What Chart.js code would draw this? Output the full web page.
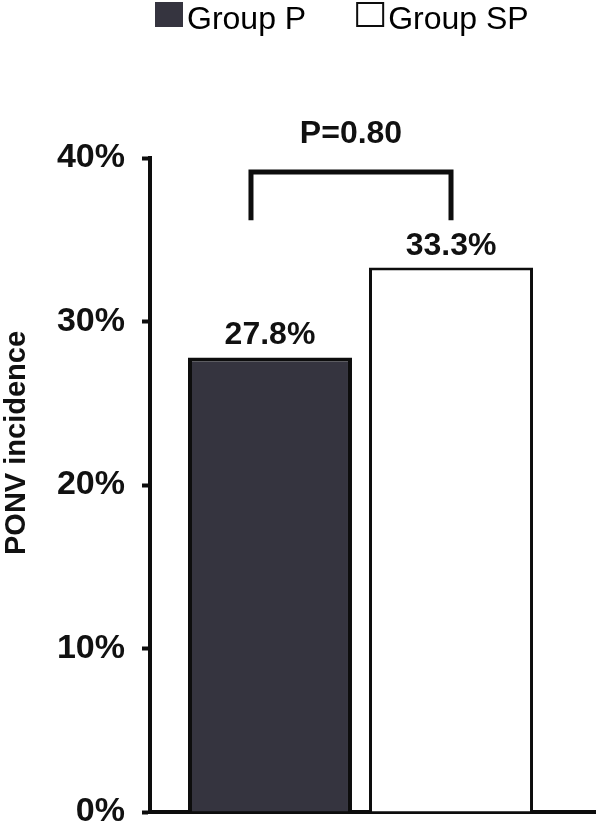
<!DOCTYPE html>
<html>
<head>
<meta charset="utf-8">
<script src="https://cdn.jsdelivr.net/npm/chart.js@4"></script>
<style>
    html, body { margin: 0; padding: 0; background: #fff; }
    #chart-container { width: 596px; height: 824px; }
</style>
</head>
<body>
<div id="chart-container"><canvas id="myChart" width="596" height="824"></canvas></div>
<script>
const categories = ['PONV'];
const groups = ['Group P', 'Group SP'];
const incidence = [27.8, 33.3];
const yTicks = [0, 10, 20, 30, 40];
const yTitle = 'PONV incidence';
const pValueText = 'P=0.80';
// bracket levels, in axis units (%)
const bracketTop = 39.15;
const bracketLegs = 36.2;

const ink = '#0d0d0d';
const fontFamily = '"Liberation Sans", Arial, sans-serif';

const extras = {
    id: 'extras',
    afterDraw(chart) {
        const ctx = chart.ctx;
        const area = chart.chartArea;
        const yScale = chart.scales.y;
        const bar1 = chart.getDatasetMeta(0).data[0];
        const bar2 = chart.getDatasetMeta(1).data[0];

        ctx.save();

        // x axis runs on past the last bar to the edge
        ctx.strokeStyle = ink;
        ctx.lineWidth = 4;
        ctx.beginPath();
        ctx.moveTo(area.right - 2, area.bottom);
        ctx.lineTo(chart.width, area.bottom);
        ctx.stroke();

        // value labels
        ctx.fillStyle = '#111';
        ctx.font = 'bold 32px ' + fontFamily;
        ctx.textAlign = 'center';
        ctx.textBaseline = 'alphabetic';
        [bar1, bar2].forEach((bar, i) => {
            ctx.fillText(incidence[i].toFixed(1) + '%', bar.x, bar.y - 13);
        });

        // significance bracket
        const left = bar1.x - 19;
        const right = bar2.x;
        const yTop = yScale.getPixelForValue(bracketTop);
        const yLeg = yScale.getPixelForValue(bracketLegs);
        ctx.lineWidth = 5;
        ctx.beginPath();
        ctx.moveTo(left, yLeg);
        ctx.lineTo(left, yTop);
        ctx.lineTo(right, yTop);
        ctx.lineTo(right, yLeg);
        ctx.stroke();
        ctx.fillText(pValueText, (left + right) / 2, yTop - 29);

        // y axis title
        ctx.save();
        ctx.translate(17, (area.top + area.bottom) / 2 - 42);
        ctx.rotate(-Math.PI / 2);
        ctx.font = 'bold 29px ' + fontFamily;
        ctx.textBaseline = 'middle';
        ctx.fillText(yTitle, 0, 0);
        ctx.restore();

        // legend
        ctx.font = '32px ' + fontFamily;
        ctx.textAlign = 'left';
        let x = 155;
        chart.data.datasets.forEach((ds, i) => {
            const boxW = 28, boxH = 25;
            ctx.fillStyle = ds.backgroundColor;
            ctx.fillRect(x, 2, boxW, boxH);
            if (i > 0) {
                ctx.lineWidth = 2;
                ctx.strokeStyle = ink;
                ctx.strokeRect(x + 1, 3, boxW - 2, boxH - 2);
            }
            x += boxW + 4;
            ctx.fillStyle = '#000';
            ctx.fillText(ds.label, x, 29);
            x += ctx.measureText(ds.label).width + 50;
        });

        ctx.restore();
    }
};

const ctx = document.getElementById('myChart').getContext('2d');
const myChart = new Chart(ctx, {
    type: 'bar',
    data: {
        labels: categories,
        datasets: [{
            label: groups[0],
            data: [incidence[0]],
            backgroundColor: '#35343f',
            borderColor: ink,
            borderWidth: 4,
            barPercentage: 0.906,
            categoryPercentage: 0.86
        }, {
            label: groups[1],
            data: [incidence[1]],
            backgroundColor: '#ffffff',
            borderColor: ink,
            borderWidth: 3,
            barPercentage: 0.906,
            categoryPercentage: 0.86
        }]
    },
    options: {
        responsive: false,
        animation: false,
        layout: {
            padding: { top: 158, left: 4, right: 25, bottom: 12 }
        },
        plugins: {
            legend: { display: false },
            tooltip: { enabled: false }
        },
        scales: {
            x: {
                afterFit: (scale) => { scale.height = 0; },
                ticks: { display: false },
                grid: { display: false },
                border: { display: true, width: 4, color: ink }
            },
            y: {
                min: 0,
                max: 40,
                // the 0% label is allowed to run off the bottom edge, as in the original
                afterFit: (scale) => {
                    scale.width = 146;
                    scale.paddingTop = 0;
                    scale.paddingBottom = 0;
                },
                afterBuildTicks: (scale) => { scale.ticks = yTicks.map(v => ({ value: v })); },
                ticks: {
                    padding: 17,
                    color: '#111',
                    font: { family: fontFamily, size: 34, weight: 'bold' },
                    callback: (v) => v + '%'
                },
                grid: {
                    drawOnChartArea: false,
                    drawTicks: true,
                    tickLength: 8,
                    tickWidth: 4,
                    tickColor: ink
                },
                border: { display: true, width: 4, color: ink }
            }
        }
    },
    plugins: [extras]
});
</script>
</body>
</html>
